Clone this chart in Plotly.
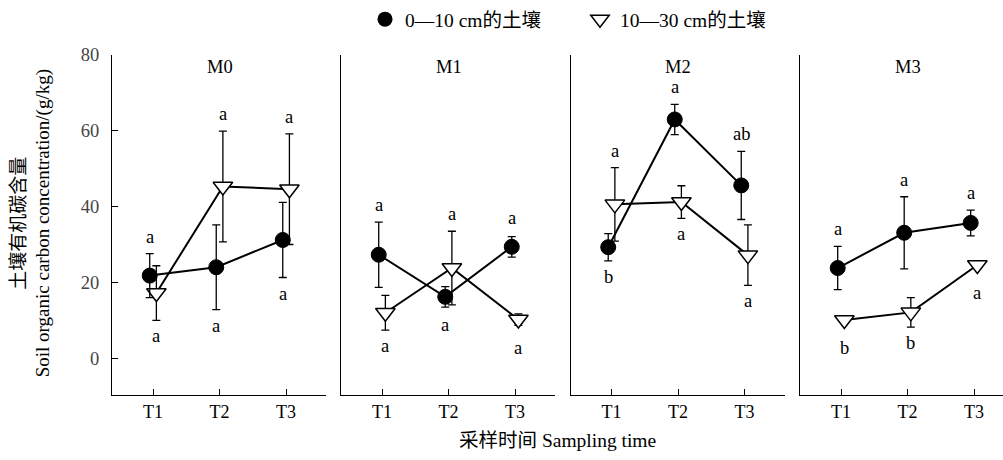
import plotly.graph_objects as go

# ---------------- data ----------------
panels = ["M0", "M1", "M2", "M3"]
times = ["T1", "T2", "T3"]

# 0-10 cm soil (filled circles)
top_mean = {"M0": [21.8, 24.0, 31.2], "M1": [27.3, 16.2, 29.4],
            "M2": [29.3, 63.0, 45.6], "M3": [23.8, 33.1, 35.7]}
top_err = {"M0": [5.8, 11.2, 9.9], "M1": [8.6, 2.7, 2.7],
           "M2": [3.6, 4.0, 9.0], "M3": [5.7, 9.5, 3.4]}
top_letters = {"M0": ["a", "a", "a"], "M1": ["a", "a", "a"],
               "M2": ["b", "a", "ab"], "M3": ["a", "a", "a"]}
top_sides = {"M0": ["up", "down", "down"], "M1": ["up", "down", "up"],
             "M2": ["down", "up", "up"], "M3": ["up", "up", "up"]}

# 10-30 cm soil (open down-triangles)
sub_mean = {"M0": [17.2, 45.3, 44.6], "M1": [12.0, 23.8, 10.2],
            "M2": [40.6, 41.2, 27.2], "M3": [10.1, 12.1, 24.6]}
sub_err = {"M0": [7.2, 14.6, 14.6], "M1": [4.6, 9.7, 1.5],
           "M2": [9.7, 4.3, 8.0], "M3": [0.5, 3.9, 0.5]}
sub_letters = {"M0": ["a", "a", "a"], "M1": ["a", "a", "a"],
               "M2": ["a", "a", "a"], "M3": ["b", "b", "a"]}
sub_sides = {"M0": ["down", "up", "up"], "M1": ["down", "up", "down"],
             "M2": ["up", "down", "down"], "M3": ["down", "down", "down"]}

legend_names = ["0\u201410 cm的土壤", "10\u201430 cm的土壤"]
y_ticks = [0, 20, 40, 60, 80]

# ---------------- style ----------------
FONT = "Liberation Serif, 'Noto Sans CJK SC', serif"
W, H = 1003, 460
ML, MR, MT, MB = 112, 0, 55, 65
PW = W - ML - MR
px_domains = [(112, 326), (341, 555), (570.5, 784.5), (800, 1003)]
domains = [[(a - ML) / PW, (b - ML) / PW] for a, b in px_domains]
x_ranges = [[0.383, 3.6], [0.383, 3.6], [0.383, 3.6], [0.383, 3.436]]
Y_RANGE = [-9.7, 80]
OFF = 0.05

fig = go.Figure()
layout = dict(
    width=W, height=H,
    margin=dict(l=ML, r=MR, t=MT, b=MB),
    paper_bgcolor="white", plot_bgcolor="white",
    font=dict(family=FONT, size=18, color="black"),
    showlegend=True,
    legend=dict(orientation="h", x=(580 - ML) / PW, xanchor="center",
                y=1 + 36 / (H - MT - MB), yanchor="middle",
                font=dict(family=FONT, size=19.5, color="black"),
                entrywidth=170, entrywidthmode="pixels",
                bgcolor="rgba(0,0,0,0)"),
)

annotations = []
for i, p in enumerate(panels):
    n = "" if i == 0 else str(i + 1)
    xs = [k + 1 for k in range(len(times))]
    layout["xaxis" + n] = dict(
        domain=domains[i], range=x_ranges[i], anchor="y" + n,
        tickmode="array", tickvals=xs, ticktext=times,
        ticks="inside", ticklen=6, tickwidth=1, tickcolor="black",
        showline=True, linecolor="black", linewidth=1.3,
        showgrid=False, zeroline=False, fixedrange=True,
        tickfont=dict(family=FONT, size=18, color="black"))
    layout["yaxis" + n] = dict(
        domain=[0, 1], range=Y_RANGE, anchor="x" + n,
        tickmode="array", tickvals=y_ticks,
        ticks="inside" if i == 0 else "", ticklen=6, tickwidth=1, tickcolor="black",
        showticklabels=(i == 0), ticklabelstandoff=8,
        showline=True, linecolor="black", linewidth=1.3,
        showgrid=False, zeroline=False, fixedrange=True,
        tickfont=dict(family=FONT, size=18.5, color="#444444"))

    # 10-30 cm
    fig.add_trace(go.Scatter(
        x=[x + OFF for x in xs], y=sub_mean[p], xaxis="x" + n, yaxis="y" + n,
        mode="lines+markers", showlegend=False,
        line=dict(color="black", width=2),
        marker=dict(symbol="triangle-down", size=17, color="white",
                    line=dict(color="black", width=1.5)),
        error_y=dict(type="data", array=sub_err[p], visible=True,
                     color="black", thickness=1.3, width=4)))
    # 0-10 cm
    fig.add_trace(go.Scatter(
        x=[x - OFF for x in xs], y=top_mean[p], xaxis="x" + n, yaxis="y" + n,
        mode="lines+markers", showlegend=False,
        line=dict(color="black", width=2),
        marker=dict(symbol="circle", size=15, color="black",
                    line=dict(color="black", width=1)),
        error_y=dict(type="data", array=top_err[p], visible=True,
                     color="black", thickness=1.3, width=4)))

    # significance letters
    for means, errs, letters, sides, off in (
            (top_mean[p], top_err[p], top_letters[p], top_sides[p], -OFF),
            (sub_mean[p], sub_err[p], sub_letters[p], sub_sides[p], OFF)):
        for k in range(len(times)):
            e = max(errs[k], 3.2)
            up = sides[k] == "up"
            annotations.append(dict(
                xref="x" + n, yref="y" + n, x=xs[k] + off,
                y=means[k] + e if up else means[k] - e,
                yshift=17 if up else -16, yanchor="middle",
                text=letters[k], showarrow=False,
                font=dict(family=FONT, size=18.5, color="black")))

    # panel title
    annotations.append(dict(
        xref="x" + n, yref="y" + n, x=2, y=80, yanchor="top",
        text=p, showarrow=False, font=dict(family=FONT, size=18.5, color="black")))

# legend-only traces
fig.add_trace(go.Scatter(x=[None], y=[None], mode="markers", name=legend_names[0],
                         marker=dict(symbol="circle", size=15, color="black")))
fig.add_trace(go.Scatter(x=[None], y=[None], mode="markers", name=legend_names[1],
                         marker=dict(symbol="triangle-down", size=16, color="white",
                                     line=dict(color="black", width=1.5))))

# axis titles
annotations.append(dict(
    xref="paper", yref="paper", x=(557 - ML) / PW, y=-(440 - (H - MB)) / (H - MT - MB),
    xanchor="center", yanchor="middle", showarrow=False,
    text="采样时间 Sampling time", font=dict(family=FONT, size=19.5, color="black")))
annotations.append(dict(
    xref="paper", yref="paper", x=(31 - ML) / PW, y=0.505,
    xanchor="center", yanchor="middle", showarrow=False, textangle=-90,
    text="土壤有机碳含量<br>Soil organic carbon concentration/(g/kg)",
    font=dict(family=FONT, size=19, color="black")))

layout["annotations"] = annotations
fig.update_layout(**layout)
fig.write_html("out.html")
